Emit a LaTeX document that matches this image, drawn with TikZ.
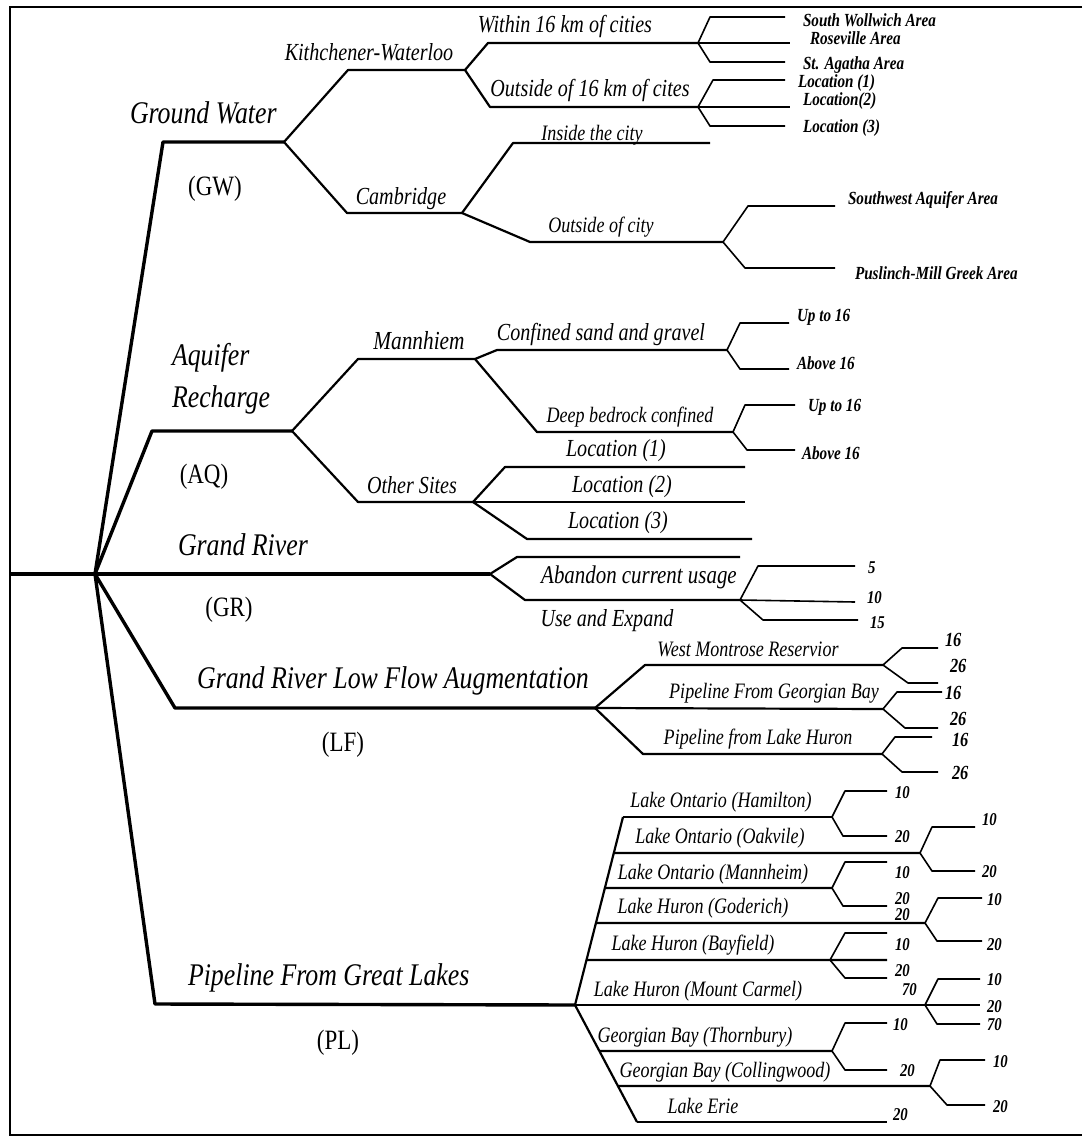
\documentclass[tikz,border=0pt]{standalone}
\usepackage{fontspec}
\setmainfont{Liberation Serif}[FakeStretch=0.82]
\usetikzlibrary{calc}

\tikzset{
  frame/.style={line width=1.2pt},
  trunk/.style={line width=3.4pt, line join=round},
  limb/.style={line width=2.2pt, line join=round},
  twig/.style={line width=1.6pt, line join=round},
  lbl/.style={inner sep=0pt, outer sep=0pt},
  big/.style={lbl, font=\fontsize{31.5}{33}\selectfont\itshape},
  abbr/.style={lbl, font=\fontsize{28}{30}\selectfont},
  mid/.style={lbl, font=\fontsize{24.5}{26}\selectfont\itshape},
  small/.style={lbl, font=\fontsize{22}{24}\selectfont\itshape},
  tiny/.style={lbl, font=\fontsize{18.5}{20}\selectfont\bfseries\itshape},
  num/.style={lbl, font=\fontsize{18}{20}\selectfont\bfseries\itshape},
  bignum/.style={lbl, font=\fontsize{20}{22}\selectfont\bfseries\itshape},
}

\begin{document}
\begin{tikzpicture}[x=1pt,y=-1pt]
\useasboundingbox (0,0) rectangle (1082,1140);
% open frame: top, left and bottom edges
\draw[frame] (1082,7) -- (10,7) -- (10,1135) -- (1082,1135);

% ---- trunk: root and the five alternatives ----
\coordinate (src)  at (10,574);
\coordinate (root) at (95,574);
\coordinate (gwc)  at (163,142);  \coordinate (gw) at (284,142);
\coordinate (aqc)  at (152,431);  \coordinate (aq) at (292,431);
\coordinate (gr)   at (490,574);
\coordinate (lfc)  at (175,708);  \coordinate (lf) at (595,708);
\coordinate (plc)  at (155,1004); \coordinate (pl) at (575,1005);

\draw[trunk] (src) -- (root) -- (gr);
\draw[trunk] (root) -- (gwc) -- (gw);
\draw[trunk] (root) -- (aqc) -- (aq);
\draw[trunk] (root) -- (lfc) -- (lf);
\draw[trunk] (root) -- (plc) -- (pl);

\node[big, anchor=base west] (gwlab) at (130,123) {Ground Water};
\node[abbr] (gwab) at (215,189) {(GW)};
\node[big, anchor=base west] (aqlab1) at (172,365) {Aquifer};
\node[big, anchor=base west] (aqlab2) at (172,407) {Recharge};
\node[abbr] (aqab) at (204,477) {(AQ)};
\node[big, anchor=base west] (grlab) at (178,555) {Grand River};
\node[abbr] (grab) at (229,610) {(GR)};
\node[big, anchor=base] (lflab) at (393,688) {Grand River Low Flow Augmentation};
\node[abbr] (lfab) at (343,745) {(LF)};
\node[big, anchor=base west] (pllab) at (188,985) {Pipeline From Great Lakes};
\node[abbr] (plab) at (338,1043) {(PL)};

% ---- Ground Water ----
\coordinate (kwc) at (348,70);  \coordinate (kw) at (465,70);
\coordinate (cbc) at (347,213); \coordinate (cb) at (462,213);
\draw[limb] (gw) -- (kwc) -- (kw);
\draw[limb] (gw) -- (cbc) -- (cb);
\node[mid, anchor=base] (kwlab) at (369,61) {Kithchener-Waterloo};
\node[mid, anchor=base] (cblab) at (401,204) {Cambridge};

\coordinate (wic) at (488,43);  \coordinate (wi) at (698,43);
\coordinate (ouc) at (490,107); \coordinate (ou) at (698,107);
\draw[limb] (kw) -- (wic) -- (wi);
\draw[limb] (kw) -- (ouc) -- (ou);
\node[mid, anchor=base] (wilab) at (565,33) {Within 16 km of  cities};
\node[mid, anchor=base] (oulab) at (590,96) {Outside of 16 km of cites};

\coordinate (swa) at (710,17);  \coordinate (swb) at (785,17);
\coordinate (rvb) at (790,43);
\coordinate (saa) at (710,62);  \coordinate (sab) at (785,62);
\draw[twig] (wi) -- (swa) -- (swb);
\draw[twig] (wi) -- (rvb);
\draw[twig] (wi) -- (saa) -- (sab);
\node[tiny, anchor=west] (swlab) at (803,20) {South Wollwich Area};
\node[tiny, anchor=west] (rvlab) at (810,38) {Roseville Area};
\node[tiny, anchor=west] (salab) at (803,65) {St. Agatha Area};

\coordinate (laa) at (713,80);  \coordinate (lab) at (785,80);
\coordinate (lbb) at (790,107);
\coordinate (lca) at (710,126); \coordinate (lcb) at (785,126);
\draw[twig] (ou) -- (laa) -- (lab);
\draw[twig] (ou) -- (lbb);
\draw[twig] (ou) -- (lca) -- (lcb);
\node[tiny, anchor=west] (lalab) at (798,83) {Location (1)};
\node[tiny, anchor=west] (lblab) at (803,101) {Location(2)};
\node[tiny, anchor=west] (lclab) at (803,128) {Location (3)};

\coordinate (icc) at (513,143); \coordinate (ic) at (710,143);
\coordinate (occ) at (530,242); \coordinate (oc) at (723,242);
\draw[limb] (cb) -- (icc) -- (ic);
\draw[limb] (cb) -- (occ) -- (oc);
\node[small, anchor=base] (iclab) at (592,140) {Inside the city};
\node[small, anchor=base] (oclab) at (601,232) {Outside of city};

\coordinate (sqa) at (748,206); \coordinate (sqb) at (835,206);
\coordinate (pma) at (745,268); \coordinate (pmb) at (835,268);
\draw[twig] (oc) -- (sqa) -- (sqb);
\draw[twig] (oc) -- (pma) -- (pmb);
\node[tiny, anchor=west] (sqlab) at (848,200) {Southwest Aquifer Area};
\node[tiny, anchor=west] (pmlab) at (855,273) {Puslinch-Mill Greek Area};

% ---- Aquifer Recharge ----
\coordinate (mnc) at (358,359); \coordinate (mn) at (475,359);
\coordinate (osc) at (358,502); \coordinate (os) at (473,502);
\draw[limb] (aq) -- (mnc) -- (mn);
\draw[limb] (aq) -- (osc) -- (os);
\node[mid, anchor=base, font=\fontsize{26}{28}\selectfont\itshape] (mnlab) at (419,349) {Mannhiem};
\node[mid, anchor=base] (oslab) at (412,493) {Other Sites};

\coordinate (cfc) at (497,350); \coordinate (cf) at (727,350);
\coordinate (dbc) at (537,432); \coordinate (db) at (733,432);
\draw[limb] (mn) -- (cfc) -- (cf);
\draw[limb] (mn) -- (dbc) -- (db);
\node[mid, anchor=base] (cflab) at (601,340) {Confined sand and gravel};
\node[small, anchor=base] (dblab) at (630,422) {Deep bedrock confined};

\coordinate (cua) at (740,323); \coordinate (cub) at (789,323);
\coordinate (caa) at (740,369); \coordinate (cab) at (789,369);
\draw[twig] (cf) -- (cua) -- (cub);
\draw[twig] (cf) -- (caa) -- (cab);
\node[tiny, anchor=west] (culab) at (797,317) {Up to 16};
\node[tiny, anchor=west] (calab) at (797,363) {Above 16};

\coordinate (dua) at (745,405); \coordinate (dub) at (795,405);
\coordinate (daa) at (747,450); \coordinate (dab) at (795,450);
\draw[twig] (db) -- (dua) -- (dub);
\draw[twig] (db) -- (daa) -- (dab);
\node[tiny, anchor=west] (dulab) at (808,407) {Up to 16};
\node[tiny, anchor=west] (dalab) at (802,453) {Above 16};

\coordinate (loac) at (505,467); \coordinate (loa) at (745,467);
\coordinate (lob) at (745,502);
\coordinate (locc) at (527,539); \coordinate (loc) at (752,539);
\draw[limb] (os) -- (loac) -- (loa);
\draw[limb] (os) -- (lob);
\draw[limb] (os) -- (locc) -- (loc);
\node[mid, anchor=base] (loalab) at (616,456) {Location (1)};
\node[mid, anchor=base] (loblab) at (622,492) {Location (2)};
\node[mid, anchor=base] (loclab) at (618,528) {Location (3)};

% ---- Grand River ----
\coordinate (gra) at (517,557); \coordinate (grb) at (740,557);
\coordinate (grc) at (525,600); \coordinate (grs) at (740,600);
\draw[limb] (gr) -- (gra) -- (grb);
\draw[limb] (gr) -- (grc) -- (grs);
\node[mid, anchor=base, font=\fontsize{25.5}{27}\selectfont\itshape] (ablab) at (639,583) {Abandon current usage};
\node[mid, anchor=base] (uelab) at (607,626) {Use and Expand};

\coordinate (g5a) at (758,566);  \coordinate (g5b) at (855,566);
\coordinate (g10) at (855,602);
\coordinate (g15a) at (763,620); \coordinate (g15b) at (858,620);
\draw[twig] (grs) -- (g5a) -- (g5b);
\draw[twig] (grs) -- (g10);
\draw[twig] (grs) -- (g15a) -- (g15b);
\node[num, anchor=west] (g5lab) at (868,568) {5};
\node[num, anchor=west] (g10lab) at (867,598) {10};
\node[num, anchor=west] (g15lab) at (870,623) {15};

% ---- Low Flow Augmentation ----
\coordinate (wmc) at (645,665); \coordinate (wm) at (883,665);
\coordinate (pgb) at (883,709);
\coordinate (phc) at (643,754); \coordinate (ph) at (882,754);
\draw[limb] (lf) -- (wmc) -- (wm);
\draw[limb] (lf) -- (pgb);
\draw[limb] (lf) -- (phc) -- (ph);
\node[small, anchor=base] (wmlab) at (748,656) {West Montrose Reservior};
\node[small, anchor=base] (pgblab) at (774,698) {Pipeline From Georgian Bay};
\node[small, anchor=base] (phlab) at (758,744) {Pipeline from Lake Huron};

\coordinate (wua) at (902,648); \coordinate (wub) at (938,648);
\coordinate (wda) at (908,683); \coordinate (wdb) at (938,683);
\draw[twig] (wm) -- (wua) -- (wub);
\draw[twig] (wm) -- (wda) -- (wdb);
\node[bignum, anchor=west] (wulab) at (945,640) {16};
\node[bignum, anchor=west] (wdlab) at (950,666) {26};

\coordinate (pua) at (897,692); \coordinate (pub) at (942,692);
\coordinate (pda) at (905,728); \coordinate (pdb) at (938,728);
\draw[twig] (pgb) -- (pua) -- (pub);
\draw[twig] (pgb) -- (pda) -- (pdb);
\node[bignum, anchor=west] (pulab) at (945,693) {16};
\node[bignum, anchor=west] (pdlab) at (950,719) {26};

\coordinate (hua) at (895,737); \coordinate (hub) at (932,737);
\coordinate (hda) at (902,772); \coordinate (hdb) at (938,772);
\draw[twig] (ph) -- (hua) -- (hub);
\draw[twig] (ph) -- (hda) -- (hdb);
\node[bignum, anchor=west] (hulab) at (952,740) {16};
\node[bignum, anchor=west] (hdlab) at (952,773) {26};

% ---- Pipeline From Great Lakes ----
\coordinate (plup) at (623,817);
\coordinate (pldn) at (637,1122);
\draw[limb] (pl) -- (plup);
\draw[limb] (pl) -- (pldn);
\coordinate (oak) at ($(pl)!0.809!(plup)$);
\coordinate (man) at ($(pl)!0.622!(plup)$);
\coordinate (god) at ($(pl)!0.436!(plup)$);
\coordinate (bay) at ($(pl)!0.239!(plup)$);
\coordinate (thb) at ($(pl)!0.393!(pldn)$);
\coordinate (col) at ($(pl)!0.692!(pldn)$);

\coordinate (ham)  at (832,817);
\coordinate (oaks) at (920,853);
\coordinate (mans) at (832,888);
\coordinate (gods) at (925,923);
\coordinate (bsp)  at (830,960);  \coordinate (bays) at (887,960);
\coordinate (mcsp) at (925,1005); \coordinate (mcs) at (980,1005);
\coordinate (thbs) at (832,1051);
\coordinate (cols) at (930,1086);
\coordinate (erie) at (887,1122);

\draw[limb] (plup) -- (ham);
\draw[limb] (oak) -- (oaks);
\draw[limb] (man) -- (mans);
\draw[limb] (god) -- (gods);
\draw[limb] (bay) -- (bays);
\draw[limb] (pl) -- (mcs);
\draw[limb] (thb) -- (thbs);
\draw[limb] (col) -- (cols);
\draw[limb] (pldn) -- (erie);

\node[small, anchor=base] (hamlab) at (721,807) {Lake Ontario (Hamilton)};
\node[small, anchor=base] (oaklab) at (720,843) {Lake Ontario (Oakvile)};
\node[small, anchor=base] (manlab) at (713,879) {Lake Ontario (Mannheim)};
\node[small, anchor=base] (godlab) at (703,913) {Lake Huron (Goderich)};
\node[small, anchor=base] (baylab) at (693,950) {Lake Huron (Bayfield)};
\node[small, anchor=base] (mclab)  at (698,996) {Lake Huron (Mount Carmel)};
\node[small, anchor=base] (thblab) at (695,1042) {Georgian Bay (Thornbury)};
\node[small, anchor=base] (collab) at (725,1077) {Georgian Bay (Collingwood)};
\node[small, anchor=base] (erilab) at (703,1113) {Lake Erie};

% Hamilton
\coordinate (hmua) at (845,791); \coordinate (hmub) at (887,791);
\coordinate (hmda) at (843,836); \coordinate (hmdb) at (887,836);
\draw[twig] (ham) -- (hmua) -- (hmub);
\draw[twig] (ham) -- (hmda) -- (hmdb);
\node[num, anchor=west] (hmulab) at (895,793) {10};
\node[num, anchor=west] (hmdlab) at (895,837) {20};
% Oakvile
\coordinate (okua) at (932,827); \coordinate (okub) at (975,827);
\coordinate (okda) at (932,871); \coordinate (okdb) at (975,871);
\draw[twig] (oaks) -- (okua) -- (okub);
\draw[twig] (oaks) -- (okda) -- (okdb);
\node[num, anchor=west] (okulab) at (982,820) {10};
\node[num, anchor=west] (okdlab) at (982,872) {20};
% Mannheim
\coordinate (mhua) at (845,862); \coordinate (mhub) at (887,862);
\coordinate (mhda) at (843,906); \coordinate (mhdb) at (887,906);
\draw[twig] (mans) -- (mhua) -- (mhub);
\draw[twig] (mans) -- (mhda) -- (mhdb);
\node[num, anchor=west] (mhulab) at (895,873) {10};
\node[num, anchor=west] (mhdlab) at (895,899) {20};
\node[num, anchor=west] (mhxlab) at (895,915) {20};
% Goderich
\coordinate (gdua) at (938,898); \coordinate (gdub) at (982,898);
\coordinate (gdda) at (937,941); \coordinate (gddb) at (982,941);
\draw[twig] (gods) -- (gdua) -- (gdub);
\draw[twig] (gods) -- (gdda) -- (gddb);
\node[num, anchor=west] (gdulab) at (987,900) {10};
\node[num, anchor=west] (gddlab) at (987,945) {20};
% Bayfield
\coordinate (byua) at (845,933); \coordinate (byub) at (887,933);
\coordinate (byda) at (845,978); \coordinate (bydb) at (887,978);
\draw[twig] (bsp) -- (byua) -- (byub);
\draw[twig] (bsp) -- (byda) -- (bydb);
\node[num, anchor=west] (byulab) at (895,945) {10};
\node[num, anchor=west] (bydlab) at (895,971) {20};
% Mount Carmel
\coordinate (mcua) at (938,979);  \coordinate (mcub) at (980,979);
\coordinate (mcda) at (937,1024); \coordinate (mcdb) at (980,1024);
\draw[twig] (mcsp) -- (mcua) -- (mcub);
\draw[twig] (mcsp) -- (mcda) -- (mcdb);
\node[num, anchor=west] (mcxlab) at (902,990) {70};
\node[num, anchor=west] (mculab) at (987,980) {10};
\node[num, anchor=west] (mcmlab) at (987,1007) {20};
\node[num, anchor=west] (mcdlab) at (987,1025) {70};
% Thornbury
\coordinate (tbua) at (845,1023); \coordinate (tbub) at (887,1023);
\coordinate (tbda) at (845,1070); \coordinate (tbdb) at (887,1070);
\draw[twig] (thbs) -- (tbua) -- (tbub);
\draw[twig] (thbs) -- (tbda) -- (tbdb);
\node[num, anchor=west] (tbulab) at (893,1025) {10};
\node[num, anchor=west] (tbdlab) at (900,1071) {20};
% Collingwood
\coordinate (cwua) at (940,1060); \coordinate (cwub) at (985,1060);
\coordinate (cwda) at (947,1105); \coordinate (cwdb) at (985,1105);
\draw[twig] (cols) -- (cwua) -- (cwub);
\draw[twig] (cols) -- (cwda) -- (cwdb);
\node[num, anchor=west] (cwulab) at (993,1062) {10};
\node[num, anchor=west] (cwdlab) at (993,1107) {20};
% Lake Erie
\node[num, anchor=west] (erlab) at (893,1115) {20};
\end{tikzpicture}
\end{document}
